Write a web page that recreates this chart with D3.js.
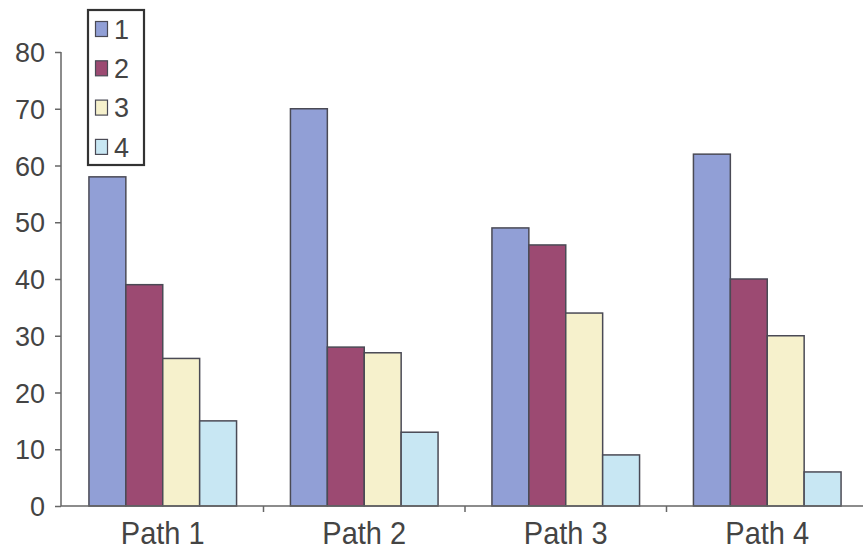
<!DOCTYPE html>
<html>
<head>
<meta charset="utf-8">
<script src="https://cdn.jsdelivr.net/npm/d3@7"></script>
<style>
  html, body { margin: 0; padding: 0; background: #fff; }
  svg { display: block; font-family: "Liberation Sans", Arial, Helvetica, sans-serif; }
</style>
</head>
<body>
<svg id="chart" width="863" height="552"></svg>
<script>
// Grouped bars: four paths, four series each
const categories = ["Path 1", "Path 2", "Path 3", "Path 4"];
const seriesNames = ["1", "2", "3", "4"];
const series1 = [58, 70, 49, 62];
const series2 = [39, 28, 46, 40];
const series3 = [26, 27, 34, 30];
const series4 = [15, 13, 9, 6];
const yTicks = [0, 10, 20, 30, 40, 50, 60, 70, 80];
const colors = ["#919fd6", "#9c4a72", "#f6f1cc", "#c8e7f3"];

const seriesValues = [series1, series2, series3, series4];
const rows = categories.map((c, i) => ({
  cat: c,
  vals: seriesNames.map((s, j) => ({ key: s, value: seriesValues[j][i] }))
}));

const svg = d3.select("#chart");
const axisColor = "#666";
const textColor = "#444";

const y = d3.scaleLinear().domain([0, 80]).range([506, 52]);
const x = d3.scaleBand().domain(categories).range([62, 868]).padding(0);
const xInner = d3.scaleBand().domain(seriesNames).range([0, x.bandwidth()])
  .paddingInner(0).paddingOuter(0.73);

// bars
const groups = svg.append("g").selectAll("g").data(rows).join("g")
  .attr("transform", d => `translate(${x(d.cat)},0)`);
groups.selectAll("rect").data(d => d.vals).join("rect")
  .attr("x", d => xInner(d.key))
  .attr("width", xInner.bandwidth())
  .attr("y", d => y(d.value))
  .attr("height", d => y(0) - y(d.value))
  .attr("fill", (d, i) => colors[i])
  .attr("stroke", "#4a4a55")
  .attr("stroke-width", 1.5);

// y axis
const yAxis = svg.append("g").attr("transform", "translate(61,0)")
  .call(d3.axisLeft(y).tickValues(yTicks).tickSize(6).tickPadding(10));
yAxis.select(".domain").attr("stroke", axisColor).attr("stroke-width", 1.5)
  .attr("d", `M0,${y(80)}V${y(0)}`);
yAxis.selectAll(".tick line").attr("stroke", axisColor).attr("stroke-width", 1.5);
yAxis.selectAll(".tick text").attr("fill", textColor)
  .style("font-size", "27px").attr("dy", "0.36em");

// x axis: line with ticks at the group boundaries, labels centred under groups
const xAxis = svg.append("g").attr("transform", `translate(0,${y(0)})`);
xAxis.append("line").attr("x1", 61).attr("x2", 863)
  .attr("stroke", axisColor).attr("stroke-width", 1.5);
xAxis.selectAll("line.bound").data(categories.slice(1)).join("line")
  .attr("class", "bound")
  .attr("x1", d => x(d)).attr("x2", d => x(d))
  .attr("y1", 0).attr("y2", 6)
  .attr("stroke", axisColor).attr("stroke-width", 1.5);
xAxis.selectAll("g.lbl").data(categories).join("g")
  .attr("class", "lbl")
  .attr("transform", d => `translate(${x(d) + x.bandwidth() / 2},38) scale(1,1.08)`)
  .append("text")
  .attr("text-anchor", "middle")
  .attr("fill", textColor)
  .style("font-size", "29px")
  .text(d => d);

// legend
const legend = svg.append("g");
legend.append("rect").attr("x", 88).attr("y", 10).attr("width", 56).attr("height", 155)
  .attr("fill", "#fff").attr("stroke", "#333").attr("stroke-width", 2.2);
const items = legend.selectAll("g.item").data(seriesNames).join("g")
  .attr("class", "item")
  .attr("transform", (d, i) => `translate(0,${29 + i * 39.3})`);
items.append("rect").attr("x", 95.5).attr("y", -7.5).attr("width", 12).attr("height", 15)
  .attr("fill", (d, i) => colors[i]).attr("stroke", "#4a4a55").attr("stroke-width", 1.2);
items.append("text").attr("x", 114).attr("y", 0).attr("dy", "0.36em")
  .attr("fill", textColor).style("font-size", "27px").text(d => d);
</script>
</body>
</html>
